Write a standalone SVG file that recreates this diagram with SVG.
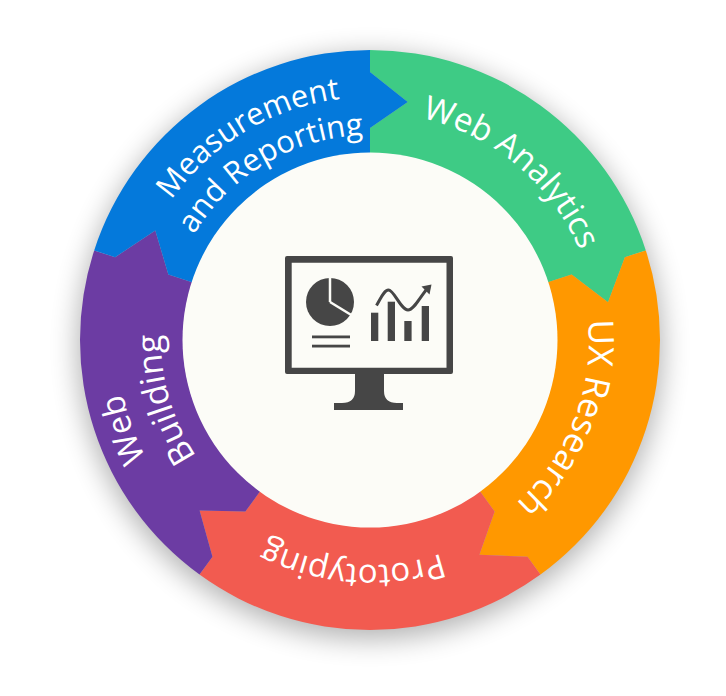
<svg xmlns="http://www.w3.org/2000/svg" xmlns:xlink="http://www.w3.org/1999/xlink" width="726" height="696" viewBox="0 0 726 696">
<style>
.lbl{fill:#ffffff;font-family:"Open Sans","Noto Sans","DejaVu Sans",sans-serif;font-size:31px;text-anchor:middle}
.ico{fill:#464646}
</style>
<defs>
<filter id="sh" x="-20%" y="-20%" width="140%" height="140%"><feGaussianBlur stdDeviation="14"/></filter>
<path id="seg" d="M0,-290 A290,290 0 0 1 275.81,-89.61 L254.88,-82.82 L238.03,-37.70 L201.62,-65.51 L177.85,-57.79 A187,187 0 0 0 0,-187 L0,-212 L37.70,-238.03 L0,-268 Z"/>
<path id="c228" d="M370,112 A228,228 0 0 1 370,568 A228,228 0 0 1 370,112"/>
<path id="c219" d="M370,121 A219,219 0 0 1 370,559 A219,219 0 0 1 370,121"/>
<path id="c225" d="M370,115 A225,225 0 0 1 370,565 A225,225 0 0 1 370,115"/>
<path id="c253" d="M370,87 A253,253 0 0 1 370,593 A253,253 0 0 1 370,87"/>
<path id="c209" d="M370,131 A209,209 0 0 1 370,549 A209,209 0 0 1 370,131"/>
<path id="c243" d="M370,97 A243,243 0 0 1 370,583 A243,243 0 0 1 370,97"/>
<path id="c205" d="M370,135 A205,205 0 0 1 370,545 A205,205 0 0 1 370,135"/>
</defs>
<rect width="726" height="696" fill="#ffffff"/>
<circle cx="370" cy="347" r="292" fill="#000000" opacity="0.3" filter="url(#sh)"/>
<g id="web-analytics">
<use xlink:href="#seg" href="#seg" transform="translate(370,340)" fill="#3ECB85"/>
<text class="lbl" style="font-size:33px"><textPath xlink:href="#c228" href="#c228" startOffset="11.11%">Web Analytics</textPath></text>
</g>
<g id="ux-research">
<use xlink:href="#seg" href="#seg" transform="translate(370,340) rotate(72)" fill="#FF9800"/>
<text class="lbl" style="font-size:35px"><textPath xlink:href="#c219" href="#c219" startOffset="30.97%">UX Research</textPath></text>
</g>
<g id="prototyping">
<use xlink:href="#seg" href="#seg" transform="translate(370,340) rotate(144)" fill="#F25B50"/>
<text class="lbl" style="font-size:33px"><textPath xlink:href="#c225" href="#c225" startOffset="51.22%">Prototyping</textPath></text>
</g>
<g id="web-building">
<use xlink:href="#seg" href="#seg" transform="translate(370,340) rotate(216)" fill="#6C3CA3"/>
<text class="lbl" style="font-size:33px"><textPath xlink:href="#c253" href="#c253" startOffset="69.44%">Web</textPath></text>
<text class="lbl" style="font-size:34px"><textPath xlink:href="#c209" href="#c209" startOffset="70.5%">Building</textPath></text>
</g>
<g id="measurement-reporting">
<use xlink:href="#seg" href="#seg" transform="translate(370,340) rotate(288)" fill="#0479DB"/>
<text class="lbl"><textPath xlink:href="#c243" href="#c243" startOffset="91.39%">Measurement</textPath></text>
<text class="lbl"><textPath xlink:href="#c205" href="#c205" startOffset="91.53%">and Reporting</textPath></text>
</g>
<g id="center">
<circle cx="370" cy="340" r="187.5" fill="#FCFCF7"/>
<path class="ico" fill-rule="evenodd" d="M287,256 H451 Q453,256 453,258 V372 Q453,374 451,374 H287 Q285,374 285,372 V258 Q285,256 287,256 Z M291.7,262.7 V367.8 H446.5 V262.7 Z"/>
<path class="ico" d="M355,374 H384 V391 Q384,403 397,403 H403 V410 H334 V403 H342 Q355,403 355,391 Z"/>
<circle class="ico" cx="330" cy="302" r="24"/>
<line x1="330" y1="302" x2="330" y2="276" stroke="#FCFCF7" stroke-width="2.5"/>
<line x1="330" y1="302" x2="352.5" y2="315.8" stroke="#FCFCF7" stroke-width="2.5"/>
<rect class="ico" x="312" y="335.5" width="38" height="2.8"/>
<rect class="ico" x="312" y="344.7" width="38" height="2.8"/>
<rect class="ico" x="371" y="312.7" width="7.3" height="28.3"/>
<rect class="ico" x="387.7" y="301.7" width="7.3" height="39.3"/>
<rect class="ico" x="404.3" y="321" width="7.3" height="20"/>
<rect class="ico" x="421.7" y="306" width="7.3" height="35"/>
<path d="M376.5,305.5 C381,298 384,290 388.5,290 C394,290 401,310 408,310 C414,310 420,297 427,289" fill="none" stroke="#464646" stroke-width="3"/>
<polygon class="ico" points="431.5,284.5 421.5,286.5 429.5,294.5"/>
</g>
</svg>
